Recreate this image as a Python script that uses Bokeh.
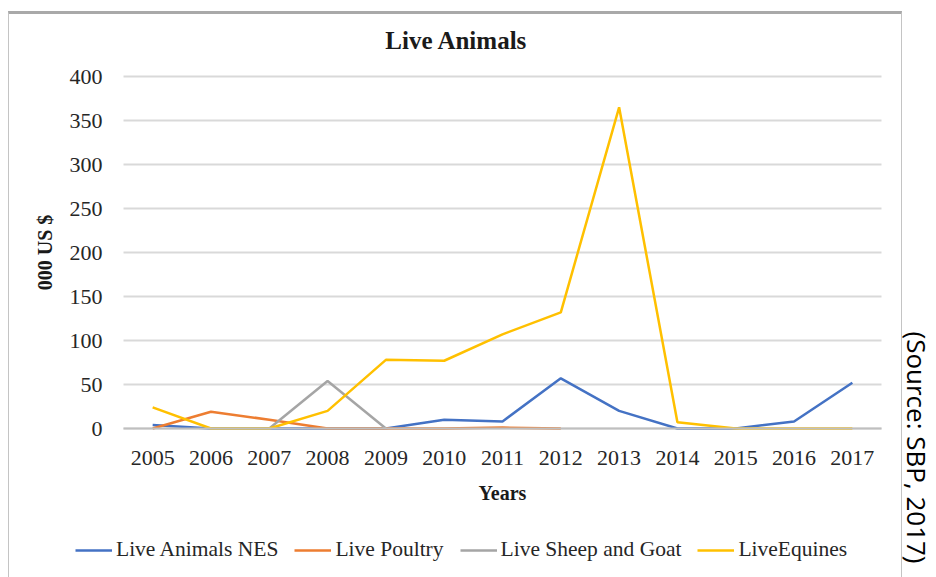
import math
import numpy as np
from bokeh.plotting import figure
from bokeh.models import (Range1d, FixedTicker, Legend, LegendItem, Label,
                          ColumnDataSource, InlineStyleSheet)
from bokeh.embed import file_html
from bokeh.resources import INLINE

# Export values of live animals, thousand US $
years = [2005, 2006, 2007, 2008, 2009, 2010, 2011, 2012, 2013, 2014, 2015, 2016, 2017]
live_animals_nes = [4, 0, 0, 0, 0, 10, 8, 57, 20, 0, 0, 8, 52]
live_poultry = [0, 19, 10, 0, 0, 0, 1, 0, None, None, None, None, None]
live_sheep_goat = [None, None, 0, 54, 0, None, None, None, None, None, None, None, None]
live_equines = [24, 0, 0, 20, 78, 77, 107, 132, 365, 7, 0, 0, 0]

y_ticks = [0, 50, 100, 150, 200, 250, 300, 350, 400]

series = [
    ("Live Animals NES", live_animals_nes, "#4472C4"),
    ("Live Poultry", live_poultry, "#ED7D31"),
    ("Live Sheep and Goat", live_sheep_goat, "#A5A5A5"),
    ("LiveEquines", live_equines, "#FFC000"),
]

SERIF = "Liberation Serif"
W, H = 936, 577

# plotting area inside the canvas (pixels) and the value extents it shows
AREA_LEFT, AREA_RIGHT, AREA_TOP, AREA_BOTTOM = 123, 881, 76, 428
x_lo, x_hi = years[0] - 0.5, years[-1] + 0.5
y_lo, y_hi = 0, 400
kx = (x_hi - x_lo) / (AREA_RIGHT - AREA_LEFT)
ky = (y_hi - y_lo) / (AREA_BOTTOM - AREA_TOP)

# thin box framing the chart
box_css = InlineStyleSheet(css="""
:host { position: relative; }
:host::after {
  content: "";
  position: absolute;
  left: 8px; top: 11px; width: 894px; height: 600px;
  border: 1.5px solid #c4c4c4;
  border-top: 3px solid #a9a9a9;
  box-sizing: border-box;
  pointer-events: none;
}
""")

p = figure(width=W, height=H, output_backend="svg", toolbar_location=None,
           x_range=Range1d(x_lo - AREA_LEFT * kx, x_hi + (W - AREA_RIGHT) * kx),
           y_range=Range1d(y_lo - (H - AREA_BOTTOM) * ky, y_hi + AREA_TOP * ky),
           min_border=0, stylesheets=[box_css])
p.title.visible = False
p.outline_line_color = None
p.background_fill_color = "white"
p.border_fill_color = "white"

# axes pinned to the value extents
xa, ya = p.xaxis[0], p.yaxis[0]
xa.fixed_location = y_lo
ya.fixed_location = x_lo
xa.bounds = (x_lo, x_hi)
ya.bounds = (y_lo, y_hi)
xa.ticker = FixedTicker(ticks=years)
ya.ticker = FixedTicker(ticks=y_ticks)
for ax in (xa, ya):
    ax.major_tick_line_color = None
    ax.minor_tick_line_color = None
    ax.major_label_text_font = SERIF
    ax.major_label_text_font_size = "22px"
    ax.major_label_text_color = "#262626"
    ax.axis_label_text_font = SERIF
    ax.axis_label_text_font_style = "bold"
    ax.axis_label_text_font_size = "20px"
    ax.axis_label_text_color = "#1a1a1a"
xa.axis_line_color = "#bfbfbf"
xa.axis_line_width = 2
ya.axis_line_color = None
xa.major_label_standoff = 16
ya.major_label_standoff = 15
xa.axis_label = "Years"
ya.axis_label = "000 US $"
xa.axis_label_standoff = 14
ya.axis_label_standoff = 11

p.xgrid.grid_line_color = None
yg = p.ygrid[0]
yg.grid_line_color = "#d9d9d9"
yg.grid_line_width = 2
yg.bounds = (y_lo, y_hi)
if "cross_bounds" in yg.properties():
    yg.cross_bounds = (x_lo, x_hi)

items = []
for name, vals, color in series:
    y = [np.nan if v is None else v for v in vals]
    src = ColumnDataSource(dict(x=years, y=y))
    r = p.line("x", "y", source=src, line_color=color, line_width=2.5)
    items.append(LegendItem(label=name, renderers=[r]))

legend = Legend(items=items, orientation="horizontal", location=(75, 15),
                label_text_font=SERIF, label_text_font_size="21.5px",
                label_text_color="#262626", glyph_width=37, glyph_height=24,
                label_height=24, label_standoff=4, spacing=16, padding=0,
                margin=0, border_line_color=None, background_fill_alpha=0)
p.add_layout(legend, "center")

p.add_layout(Label(x=456, y=40, x_units="canvas", y_units="canvas",
                   text="Live Animals", text_align="center", text_baseline="middle",
                   text_font=SERIF, text_font_style="bold", text_font_size="25px",
                   text_color="#1a1a1a"))

p.add_layout(Label(x=916, y=447, x_units="canvas", y_units="canvas",
                   text="(Source: SBP, 2017)", angle=-math.pi / 2,
                   text_align="center", text_baseline="middle",
                   text_font="Open Sans", text_font_size="26px",
                   text_color="#000000"))

open("out.html", "w").write(file_html(p, INLINE))
